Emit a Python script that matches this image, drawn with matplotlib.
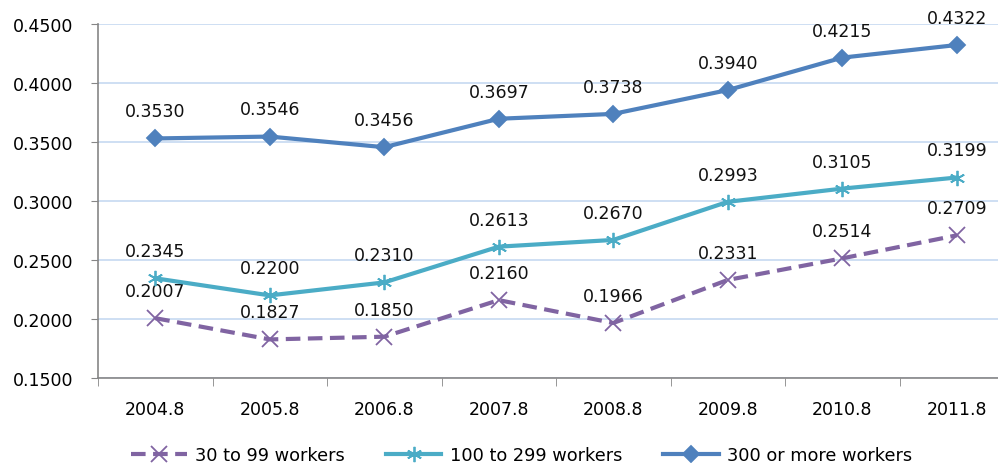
import matplotlib
matplotlib.use('Agg')
import matplotlib.pyplot as plt
import numpy as np

# == data =====================================================================
years = ["2004.8", "2005.8", "2006.8", "2007.8", "2008.8", "2009.8", "2010.8", "2011.8"]
small  = [0.2007, 0.1827, 0.1850, 0.2160, 0.1966, 0.2331, 0.2514, 0.2709]   # 30 to 99
medium = [0.2345, 0.2200, 0.2310, 0.2613, 0.2670, 0.2993, 0.3105, 0.3199]   # 100 to 299
large  = [0.3530, 0.3546, 0.3456, 0.3697, 0.3738, 0.3940, 0.4215, 0.4322]   # 300 or more
yticks = [0.15, 0.20, 0.25, 0.30, 0.35, 0.40, 0.45]
# =============================================================================

plt.rcParams['font.family'] = ['DejaVu Sans']

fig = plt.figure(figsize=(9.98, 4.64), dpi=100)
ax = fig.add_axes([98 / 998, 1 - 379 / 464, 900 / 998, (379 - 25) / 464])

x = np.arange(len(years))
series = [
    (small, '30 to 99 workers', '#8064A2', (0, (3.5, 1.8)), 'x', 11),
    (medium, '100 to 299 workers', '#4BACC6', '-', (6, 2, 0), 11),
    (large, '300 or more workers', '#4F81BD', '-', 'D', 8.5),
]
for vals, lab, col, ls, mk, ms in series:
    ax.plot(x, vals, color=col, lw=3, ls=ls, marker=mk, ms=ms,
            mec=col, mfc=col, mew=1.3, label=lab, zorder=3)
    for xi, v in zip(x, vals):
        ax.annotate(f'{v:.4f}', (xi, v), xytext=(0, 19.5), textcoords='offset points',
                    ha='center', va='center', fontsize=12.5, color='#111111')

ax.set_ylim(0.15, 0.45)
ax.set_yticks(yticks)
ax.set_yticklabels([f'{t:.4f}' for t in yticks], fontsize=12.5)
ax.set_xlim(-0.5, 7.36)
ax.set_xticks(x)
ax.set_xticklabels(years, fontsize=12.5)
ax.set_xticks(np.arange(-0.5, 7.5, 1.0), minor=True)
ax.tick_params(axis='x', which='major', length=0, pad=16)
ax.tick_params(axis='x', which='minor', length=6, color='#868686', direction='out')
ax.tick_params(axis='y', length=5, color='#868686', direction='out', pad=13)

ax.grid(axis='y', color='#C6D9F1', lw=1.2, zorder=0)
for s in ['top', 'right']:
    ax.spines[s].set_visible(False)
for s in ['left', 'bottom']:
    ax.spines[s].set_color('#868686')
    ax.spines[s].set_linewidth(1.2)

fig.legend(loc='center', bbox_to_anchor=(522 / 998, 1 - 456 / 464), ncol=3, frameon=False,
           fontsize=12.8, handlelength=3.1, columnspacing=2.3, handletextpad=0.5)

plt.savefig('out.png', dpi=100)
